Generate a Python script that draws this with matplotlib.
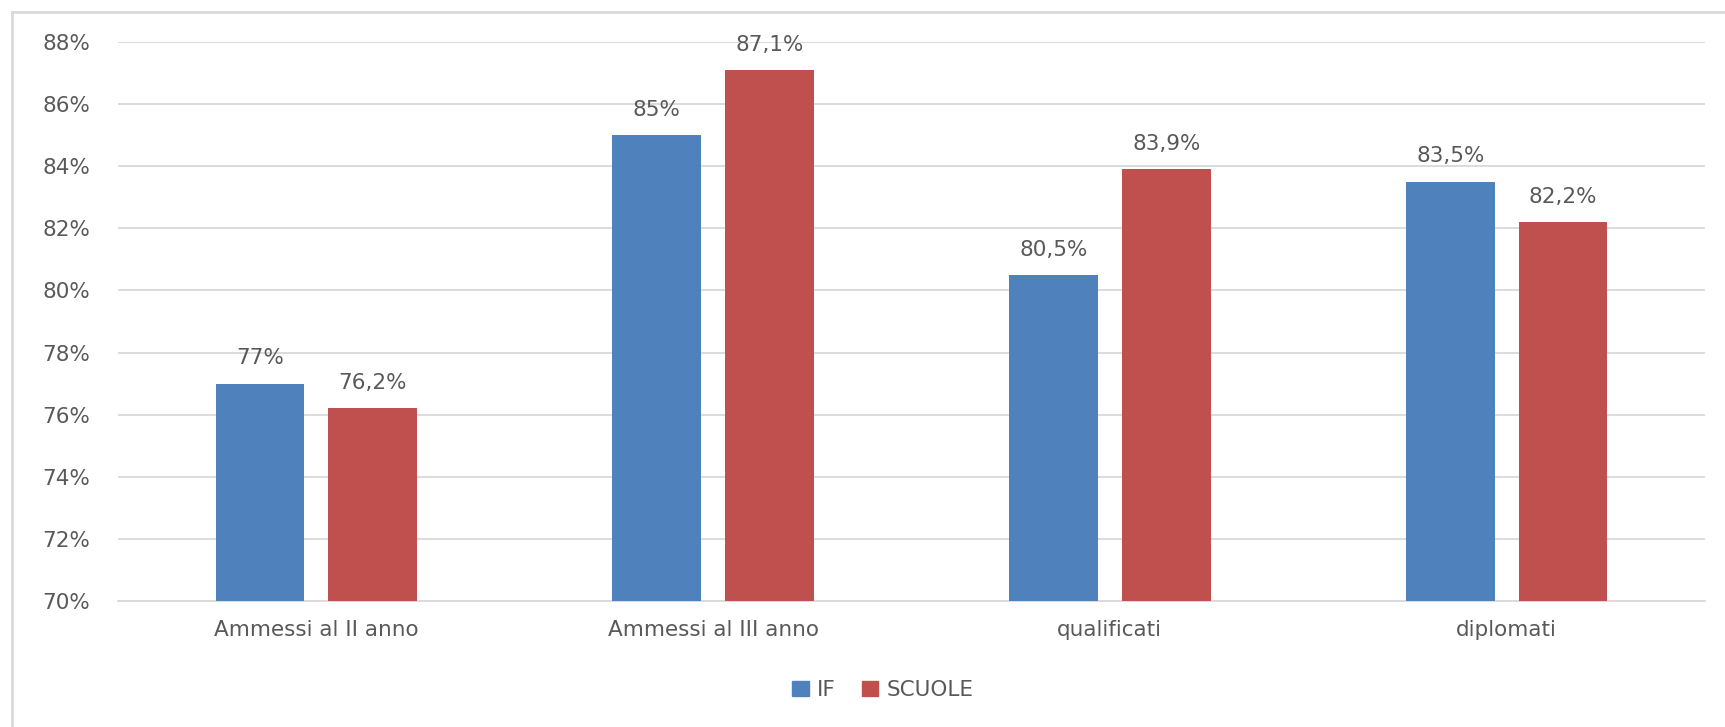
import matplotlib.pyplot as plt
import numpy as np
from matplotlib.lines import Line2D
from matplotlib.patches import Patch

categorie = ['Ammessi al II anno', 'Ammessi al III anno', 'qualificati', 'diplomati']
valori_if = [77.0, 85.0, 80.5, 83.5]
valori_scuole = [76.2, 87.1, 83.9, 82.2]
etichette_if = ['77%', '85%', '80,5%', '83,5%']
etichette_scuole = ['76,2%', '87,1%', '83,9%', '82,2%']
serie = ['IF', 'SCUOLE']

blu = '#4F81BD'
rosso = '#C0504D'
grigio = '#595959'

plt.rcParams['font.family'] = ['DejaVu Sans']

fig = plt.figure(figsize=(17.25, 7.27), dpi=100)
ax = fig.add_axes([118/1725, 1-601/727, (1705-118)/1725, (601-42)/727])

x = np.arange(len(categorie))
w = 0.224
off = 0.142
b1 = ax.bar(x - off, valori_if, w, color=blu, zorder=3)
b2 = ax.bar(x + off, valori_scuole, w, color=rosso, zorder=3)

for bars, labs in ((b1, etichette_if), (b2, etichette_scuole)):
    for b, t in zip(bars, labs):
        ax.annotate(t, (b.get_x() + b.get_width()/2, b.get_height()),
                    xytext=(0, 11), textcoords='offset points',
                    ha='center', va='bottom', fontsize=15.5, color=grigio)

ax.set_xlim(-0.5, len(categorie) - 0.5)
ax.set_ylim(70, 88)
ax.set_yticks(np.arange(70, 89, 2))
ax.set_yticklabels([f'{v}%' for v in range(70, 89, 2)])
ax.set_xticks(x)
ax.set_xticklabels(categorie)
ax.tick_params(axis='both', length=0, labelsize=15.5, colors=grigio)
ax.tick_params(axis='y', pad=20)
ax.tick_params(axis='x', pad=14)
ax.grid(axis='y', color='#D9D9D9', linewidth=1.3, zorder=0)
for s in ['top', 'right', 'left']:
    ax.spines[s].set_visible(False)
ax.spines['bottom'].set_color('#D9D9D9')
ax.spines['bottom'].set_linewidth(1.3)

handles = [Patch(color=blu), Patch(color=rosso)]
fig.legend(handles, serie, loc='center', bbox_to_anchor=(883/1725, 1-690/727),
           ncol=2, frameon=False, fontsize=15.5, labelcolor=grigio,
           handlelength=0.75, handleheight=0.75, handletextpad=0.4, columnspacing=1.2)

# cornice del grafico (solo bordo sopra e a sinistra visibili)
fig.add_artist(Line2D([12/1725, 12/1725], [0, 1-12/727], transform=fig.transFigure,
                      color='#D9D9D9', linewidth=2))
fig.add_artist(Line2D([12/1725, 1], [1-12/727, 1-12/727], transform=fig.transFigure,
                      color='#D9D9D9', linewidth=2))

fig.savefig('out.png', dpi=100)
